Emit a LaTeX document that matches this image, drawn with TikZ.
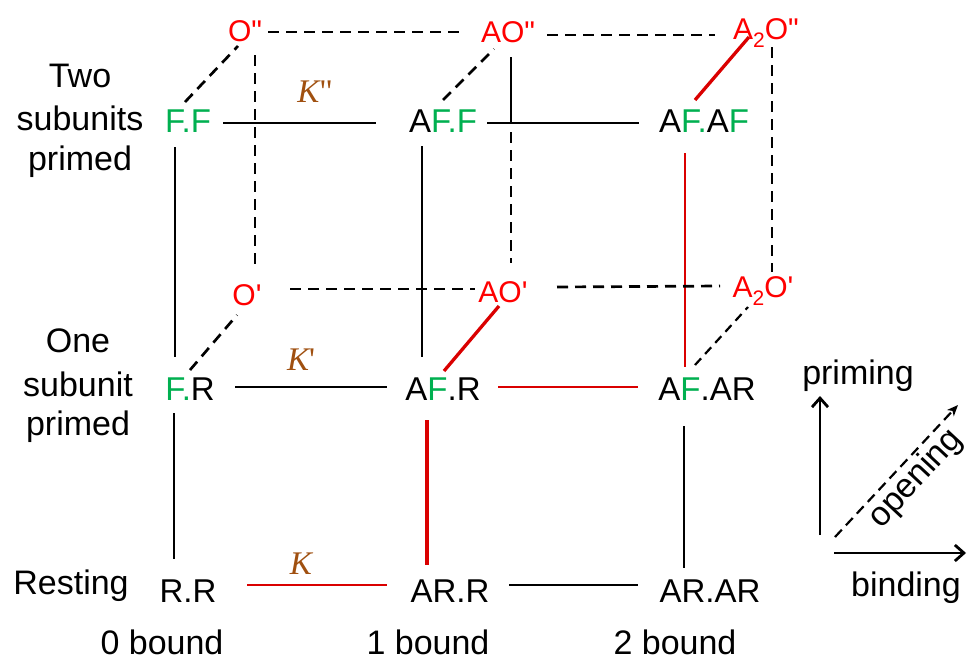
\documentclass[tikz,border=0pt]{standalone}
\usepackage{fontspec}
\usetikzlibrary{arrows.meta}
\newfontfamily\arialf{Liberation Sans}
\newfontfamily\serf{Liberation Serif}
\definecolor{grn}{RGB}{0,176,80}
\definecolor{txtred}{RGB}{255,0,0}
\definecolor{lnred}{RGB}{218,0,0}
\definecolor{kbrown}{RGB}{160,80,16}
\newcommand\gr[1]{\textcolor{grn}{#1}}
\newcommand\lowsub[1]{\raisebox{-8pt}{\fontsize{21}{21}\selectfont #1}}
\tikzset{
  st/.style={font=\arialf\fontsize{33}{40}\selectfont, inner sep=0pt, anchor=base},
  lbl/.style={font=\arialf\fontsize{34}{40}\selectfont, inner sep=0pt, anchor=base},
  opst/.style={font=\arialf\fontsize{30}{36}\selectfont, text=txtred, inner sep=0pt, anchor=base},
  kk/.style={font=\serf\fontsize{33}{40}\selectfont, text=kbrown, inner sep=0pt, anchor=base},
  ln/.style={line width=2.8pt, black},
  rl/.style={line width=3.3pt, lnred},
  rlthin/.style={line width=2.6pt, lnred},
  dl/.style={line width=2.7pt, black, dash pattern=on 11pt off 7pt},
  dlthin/.style={line width=2.2pt, black, dash pattern=on 9pt off 6pt},
  ax/.style={line width=2.8pt, black, -{Straight Barb[length=9pt,width=16pt]}},
}
\begin{document}
\begin{tikzpicture}[x=1pt,y=-1pt]
\useasboundingbox[fill=white] (0,0) rectangle (967,662);

% front states
\node[st] (FF)   at (188,132) {\gr{F.F}};
\node[st] (AFF)  at (443,132) {A\gr{F.F}};
\node[st] (AFAF) at (704,132) {A\gr{F.}A\gr{F}};
\node[st] (FR)   at (190,400) {\gr{F.}R};
\node[st] (AFR)  at (443,400) {A\gr{F}.R};
\node[st] (AFAR) at (707,400) {A\gr{F}.AR};
\node[st] (RR)   at (188,602) {R.R};
\node[st] (ARR)  at (450,602) {AR.R};
\node[st] (ARAR) at (710,602) {AR.AR};
% open states
\node[opst] (Opp)   at (245,41)  {O"};
\node[opst] (AOpp)  at (508,42)  {AO"};
\node[opst] (A2Opp) at (766,39)  {A\lowsub{2}O"};
\node[opst] (Op)    at (247,305) {O'};
\node[opst] (AOp)   at (503,302) {AO'};
\node[opst] (A2Op)  at (763,297) {A\lowsub{2}O'};

% labels
\node[lbl] (two)   at (80,87)  {Two};
\node[lbl] (subs)  at (80,130) {subunits};
\node[lbl] (prim2) at (80,170) {primed};
\node[lbl] (one)   at (78,352) {One};
\node[lbl] (sub1)  at (78,396) {subunit};
\node[lbl] (prim1) at (78,435) {primed};
\node[lbl] (rest)  at (71,594) {Resting};
\node[lbl] (bz)    at (162,654) {0 bound};
\node[lbl] (bo)    at (428,654) {1 bound};
\node[lbl] (bt)    at (675,654) {2 bound};
\node[lbl] (prm)   at (858,384) {priming};
\node[lbl] (bnd)   at (906,596) {binding};
\node[lbl, anchor=center, rotate=47] (opn) at (916,479) {opening};

% K labels
\node[kk] (K0) at (301,574) {\itshape K};
\node[kk] (K1) at (301,370) {\itshape K\upshape'};
\node[kk] (K2) at (315,102) {\itshape K\upshape"};

% horizontal front connectors
\draw[ln] ([shift={(35pt,9pt)}]FF.base) -- ([shift={(-67pt,9pt)}]AFF.base);
\draw[ln] ([shift={(44pt,9pt)}]AFF.base) -- ([shift={(-65pt,9pt)}]AFAF.base);
\draw[ln] ([shift={(45pt,13pt)}]FR.base) -- ([shift={(-56pt,13pt)}]AFR.base);
\draw[rlthin] ([shift={(55pt,13pt)}]AFR.base) -- ([shift={(-69pt,13pt)}]AFAR.base);
\draw[rlthin] ([shift={(59pt,17pt)}]RR.base) -- ([shift={(-63pt,17pt)}]ARR.base);
\draw[ln] ([shift={(59pt,17pt)}]ARR.base) -- ([shift={(-72pt,17pt)}]ARAR.base);

% vertical front connectors
\draw[ln] ([shift={(-13pt,-15pt)}]FF.base) -- ([shift={(-15pt,43pt)}]FR.base);
\draw[ln] ([shift={(-16pt,-13pt)}]FR.base) -- ([shift={(-14pt,43pt)}]RR.base);
\draw[ln] ([shift={(-21pt,-14pt)}]AFF.base) -- ([shift={(-21pt,43pt)}]AFR.base);
\draw[rl] ([shift={(-16pt,-20pt)}]AFR.base) -- ([shift={(-23pt,37pt)}]ARR.base);
\draw[rlthin] ([shift={(-19pt,-21pt)}]AFAF.base) -- ([shift={(-22pt,33pt)}]AFAR.base);
\draw[ln] ([shift={(-23pt,-26pt)}]AFAR.base) -- ([shift={(-26pt,34pt)}]ARAR.base);

% back verticals
\draw[dl] ([shift={(10pt,-14pt)}]Opp.base) -- ([shift={(8pt,36pt)}]Op.base);
\draw[ln] ([shift={(3pt,-15pt)}]AOpp.base) -- ([shift={(3pt,-81pt)}]AOpp.base);
\draw[dl] ([shift={(3pt,-90pt)}]AOpp.base) -- ([shift={(8pt,39pt)}]AOp.base);
\draw[dl] ([shift={(6pt,-8pt)}]A2Opp.base) -- ([shift={(9pt,25pt)}]A2Op.base);

% back horizontals
\draw[dl] ([shift={(23pt,9pt)}]Opp.base) -- ([shift={(-48pt,10pt)}]AOpp.base);
\draw[dl] ([shift={(39pt,7pt)}]AOpp.base) -- ([shift={(-51pt,4pt)}]A2Opp.base);
\draw[dl] ([shift={(43pt,16pt)}]Op.base) -- ([shift={(-28pt,13pt)}]AOp.base);
\draw[dl] ([shift={(54pt,15pt)}]AOp.base) -- ([shift={(-43pt,11pt)}]A2Op.base);

% diagonals (opening)
\draw[dl] ([shift={(-3pt,30pt)}]FF.base) -- ([shift={(-7pt,-5pt)}]Opp.base);
\draw[dl] ([shift={(0pt,32pt)}]AFF.base) -- ([shift={(-14pt,-7pt)}]AOpp.base);
\draw[rl] ([shift={(-9pt,32pt)}]AFAF.base) -- ([shift={(-17pt,2pt)}]A2Opp.base);
\draw[dl] ([shift={(0pt,30pt)}]FR.base) -- ([shift={(-10pt,-10pt)}]Op.base);
\draw[rl] ([shift={(1pt,29pt)}]AFR.base) -- ([shift={(-4pt,-4pt)}]AOp.base);
\draw[dlthin] ([shift={(-12pt,35pt)}]AFAR.base) -- ([shift={(-15pt,-10pt)}]A2Op.base);

% axes
\coordinate (pa) at (820,535);
\coordinate (pb) at (820,396);
\coordinate (ba) at (834,553);
\coordinate (bb) at (966,553);
\coordinate (oa) at (835,537);
\coordinate (ob) at (958,405);
\draw[ax] (pa) -- (pb);
\draw[ax] (ba) -- (bb);
\draw[line width=2.2pt, black, dash pattern=on 10pt off 6pt, -{Stealth[length=11pt,width=9pt,inset=3pt]}] (oa) -- (ob);
\end{tikzpicture}
\end{document}
